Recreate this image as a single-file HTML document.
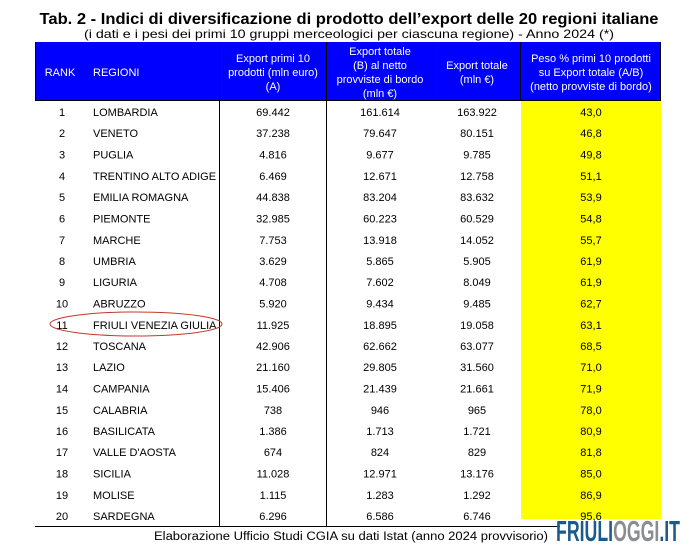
<!DOCTYPE html>
<html><head><meta charset="utf-8"><style>body{margin:0;background:#fff}svg{display:block}</style></head><body>
<svg width="692" height="547" xmlns="http://www.w3.org/2000/svg" font-family="Liberation Sans, DejaVu Sans, sans-serif">
<rect width="692" height="547" fill="#fff"/>
<text x="349" y="24" text-anchor="middle" font-size="15.5" font-weight="bold" textLength="619" lengthAdjust="spacingAndGlyphs">Tab. 2 - Indici di diversificazione di prodotto dell’export delle 20 regioni italiane</text>
<text x="349" y="38" text-anchor="middle" font-size="12" textLength="530" lengthAdjust="spacingAndGlyphs">(i dati e i pesi dei primi 10 gruppi merceologici per ciascuna regione) - Anno 2024 (*)</text>
<rect x="35" y="42" width="626" height="59" fill="#0000ff"/>
<rect x="521" y="101" width="140" height="418" fill="#ffff00"/>
<g stroke="#000" stroke-width="1">
<line x1="35.5" y1="42" x2="35.5" y2="101"/>
<line x1="660.5" y1="42" x2="660.5" y2="101"/>
<line x1="35" y1="100.5" x2="661" y2="100.5"/>
<line x1="219.5" y1="42" x2="219.5" y2="526"/>
<line x1="326.5" y1="42" x2="326.5" y2="526"/>
<line x1="433.5" y1="42" x2="433.5" y2="101"/>
<line x1="520.5" y1="42" x2="520.5" y2="101"/>
<line x1="35" y1="526.5" x2="560" y2="526.5"/>
</g>
<g fill="#fff" font-size="11" text-anchor="middle">
<text x="60" y="76">RANK</text>
<text x="93" y="76" text-anchor="start">REGIONI</text>
<text x="273" y="62">Export primi 10</text><text x="273" y="76">prodotti (mln euro)</text><text x="273" y="90">(A)</text>
<text x="380" y="55">Export totale</text><text x="380" y="69">(B) al netto</text><text x="380" y="83">provviste di bordo</text><text x="380" y="97">(mln €)</text>
<text x="477" y="69">Export totale</text><text x="477" y="83">(mln €)</text>
<text x="591" y="62">Peso % primi 10 prodotti</text><text x="591" y="76">su Export totale (A/B)</text><text x="591" y="90">(netto provviste di bordo)</text>
</g>
<g font-size="11" fill="#000">
<g text-anchor="middle">
<text x="62" y="116">1</text><text x="62" y="137">2</text><text x="62" y="158.5">3</text><text x="62" y="180">4</text><text x="62" y="201">5</text><text x="62" y="222.5">6</text><text x="62" y="244">7</text><text x="62" y="265">8</text><text x="62" y="286">9</text><text x="62" y="307.5">10</text><text x="62" y="329">11</text><text x="62" y="350">12</text><text x="62" y="371">13</text><text x="62" y="392.5">14</text><text x="62" y="414">15</text><text x="62" y="435">16</text><text x="62" y="456">17</text><text x="62" y="477.5">18</text><text x="62" y="499">19</text><text x="62" y="520">20</text>
</g>
<g>
<text x="93" y="116">LOMBARDIA</text><text x="93" y="137">VENETO</text><text x="93" y="158.5">PUGLIA</text><text x="93" y="180">TRENTINO ALTO ADIGE</text><text x="93" y="201">EMILIA ROMAGNA</text><text x="93" y="222.5">PIEMONTE</text><text x="93" y="244">MARCHE</text><text x="93" y="265">UMBRIA</text><text x="93" y="286">LIGURIA</text><text x="93" y="307.5">ABRUZZO</text><text x="93" y="329">FRIULI VENEZIA GIULIA</text><text x="93" y="350">TOSCANA</text><text x="93" y="371">LAZIO</text><text x="93" y="392.5">CAMPANIA</text><text x="93" y="414">CALABRIA</text><text x="93" y="435">BASILICATA</text><text x="93" y="456">VALLE D'AOSTA</text><text x="93" y="477.5">SICILIA</text><text x="93" y="499">MOLISE</text><text x="93" y="520">SARDEGNA</text>
</g>
<g text-anchor="middle">
<text x="273" y="116">69.442</text><text x="273" y="137">37.238</text><text x="273" y="158.5">4.816</text><text x="273" y="180">6.469</text><text x="273" y="201">44.838</text><text x="273" y="222.5">32.985</text><text x="273" y="244">7.753</text><text x="273" y="265">3.629</text><text x="273" y="286">4.708</text><text x="273" y="307.5">5.920</text><text x="273" y="329">11.925</text><text x="273" y="350">42.906</text><text x="273" y="371">21.160</text><text x="273" y="392.5">15.406</text><text x="273" y="414">738</text><text x="273" y="435">1.386</text><text x="273" y="456">674</text><text x="273" y="477.5">11.028</text><text x="273" y="499">1.115</text><text x="273" y="520">6.296</text>
</g>
<g text-anchor="middle">
<text x="380" y="116">161.614</text><text x="380" y="137">79.647</text><text x="380" y="158.5">9.677</text><text x="380" y="180">12.671</text><text x="380" y="201">83.204</text><text x="380" y="222.5">60.223</text><text x="380" y="244">13.918</text><text x="380" y="265">5.865</text><text x="380" y="286">7.602</text><text x="380" y="307.5">9.434</text><text x="380" y="329">18.895</text><text x="380" y="350">62.662</text><text x="380" y="371">29.805</text><text x="380" y="392.5">21.439</text><text x="380" y="414">946</text><text x="380" y="435">1.713</text><text x="380" y="456">824</text><text x="380" y="477.5">12.971</text><text x="380" y="499">1.283</text><text x="380" y="520">6.586</text>
</g>
<g text-anchor="middle">
<text x="477" y="116">163.922</text><text x="477" y="137">80.151</text><text x="477" y="158.5">9.785</text><text x="477" y="180">12.758</text><text x="477" y="201">83.632</text><text x="477" y="222.5">60.529</text><text x="477" y="244">14.052</text><text x="477" y="265">5.905</text><text x="477" y="286">8.049</text><text x="477" y="307.5">9.485</text><text x="477" y="329">19.058</text><text x="477" y="350">63.077</text><text x="477" y="371">31.560</text><text x="477" y="392.5">21.661</text><text x="477" y="414">965</text><text x="477" y="435">1.721</text><text x="477" y="456">829</text><text x="477" y="477.5">13.176</text><text x="477" y="499">1.292</text><text x="477" y="520">6.746</text>
</g>
<g text-anchor="middle">
<text x="591" y="116">43,0</text><text x="591" y="137">46,8</text><text x="591" y="158.5">49,8</text><text x="591" y="180">51,1</text><text x="591" y="201">53,9</text><text x="591" y="222.5">54,8</text><text x="591" y="244">55,7</text><text x="591" y="265">61,9</text><text x="591" y="286">61,9</text><text x="591" y="307.5">62,7</text><text x="591" y="329">63,1</text><text x="591" y="350">68,5</text><text x="591" y="371">71,0</text><text x="591" y="392.5">71,9</text><text x="591" y="414">78,0</text><text x="591" y="435">80,9</text><text x="591" y="456">81,8</text><text x="591" y="477.5">85,0</text><text x="591" y="499">86,9</text><text x="591" y="520">95,6</text>
</g>
</g>
<ellipse cx="136" cy="324" rx="86" ry="12" fill="none" stroke="#c0392b" stroke-width="1"/>
<text x="154" y="540" font-size="11.5" textLength="394" lengthAdjust="spacingAndGlyphs">Elaborazione Ufficio Studi CGIA su dati Istat (anno 2024 provvisorio)</text>
<text x="556" y="541" font-size="29" font-weight="bold" textLength="124" lengthAdjust="spacingAndGlyphs" font-family="Liberation Sans Narrow, Liberation Sans, sans-serif"><tspan fill="#1d5a8c">FRIULI</tspan><tspan fill="#8a8d90">OGGI</tspan><tspan fill="#1d5a8c">.IT</tspan></text>
</svg>
</body></html>
